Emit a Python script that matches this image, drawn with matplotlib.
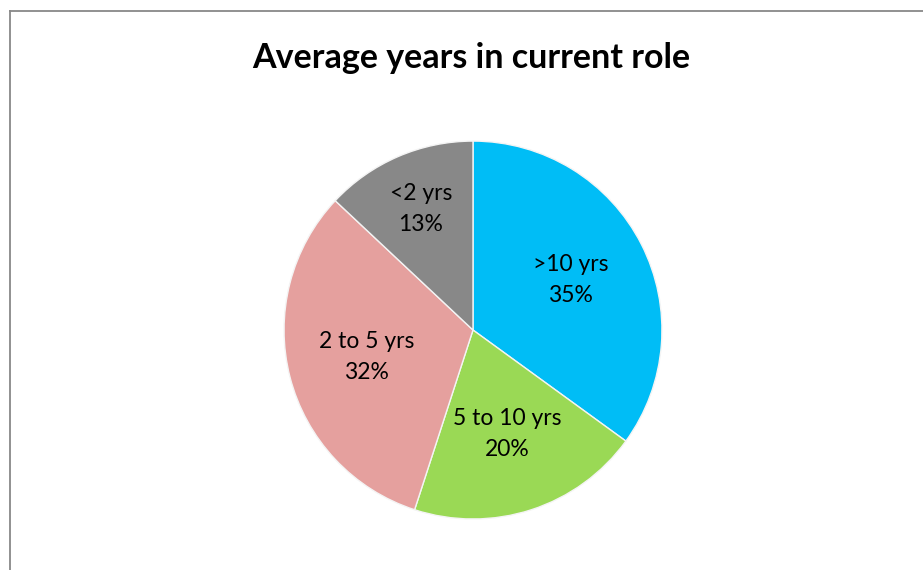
import matplotlib.pyplot as plt
from matplotlib.lines import Line2D

labels = ['>10 yrs', '5 to 10 yrs', '2 to 5 yrs', '<2 yrs']
shares = [35, 20, 32, 13]
colors = ['#00bdf6', '#9ad955', '#e5a09e', '#888888']

plt.rcParams['font.family'] = ['Lato', 'DejaVu Sans']

fig = plt.figure(figsize=(9.23, 5.70), dpi=100)
ax = fig.add_axes([0.3077, 0.0895, 0.4095, 0.663])

texts = [f'{l}\n{s}%' for l, s in zip(labels, shares)]
wedges, txts = ax.pie(shares, labels=texts, colors=colors, startangle=90,
                      counterclock=False, labeldistance=0.58, radius=1,
                      wedgeprops=dict(edgecolor='#f4f4f4', linewidth=1.0),
                      textprops=dict(fontsize=16.5, ha='center', va='center',
                                     linespacing=1.6))
# the small slice has its label pushed further out
x, y = txts[-1].get_position()
txts[-1].set_position((x * 1.2, y * 1.2))
ax.set_xlim(-1, 1)
ax.set_ylim(-1, 1)
ax.set_aspect('equal')
ax.axis('off')

fig.text(0.511, 0.898, 'Average years in current role', ha='center', va='center',
         fontsize=24.5, fontweight='bold')

# chart area border (left and top visible)
bx = 9.5 / 923
by = 1 - 11 / 570
fig.add_artist(Line2D([bx, bx], [0, by], color='#888888', lw=1.3))
fig.add_artist(Line2D([bx, 1], [by, by], color='#888888', lw=1.3))

fig.savefig('out.png', dpi=100)
